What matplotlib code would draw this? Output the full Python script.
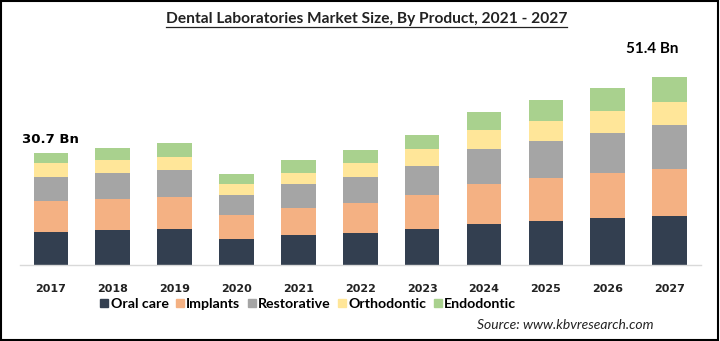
import numpy as np
import matplotlib
matplotlib.use("Agg")
import matplotlib.pyplot as plt
from matplotlib.lines import Line2D
from matplotlib.patches import Rectangle

# market size by product segment, USD Bn
years = ["2017", "2018", "2019", "2020", "2021", "2022", "2023", "2024", "2025", "2026", "2027"]
oral_care = [9.1, 9.6, 9.9, 7.2, 8.2, 8.9, 9.8, 11.3, 12.1, 13.0, 13.3]
implants = [8.4, 8.5, 8.7, 6.5, 7.5, 8.2, 9.4, 11.0, 11.6, 12.1, 13.1]
restorative = [6.6, 7.2, 7.5, 5.6, 6.6, 7.1, 8.0, 9.5, 10.2, 11.2, 12.0]
orthodontic = [3.8, 3.5, 3.6, 3.0, 3.0, 3.8, 4.6, 5.2, 5.5, 5.9, 6.2]
endodontic = [2.8, 3.3, 3.6, 2.5, 3.4, 3.6, 3.9, 4.9, 5.8, 6.2, 6.8]
segments = ["Oral care", "Implants", "Restorative", "Orthodontic", "Endodontic"]

colors = ["#333f50", "#f4b183", "#a5a5a5", "#ffe699", "#a9d18e"]
humanist = ["Lato", "DejaVu Sans"]

fig = plt.figure(figsize=(7.2, 3.41), dpi=100)
ax = fig.add_axes([20 / 720, 1 - 265 / 341, 680.6 / 720, 219 / 341])

x = np.arange(len(years))
bottom = np.zeros(len(years))
for vals, col in zip([oral_care, implants, restorative, orthodontic, endodontic], colors):
    ax.bar(x, vals, width=0.56, bottom=bottom, color=col, linewidth=0)
    bottom += np.array(vals)

ax.set_xlim(-0.5, 10.5)
ax.set_ylim(0, 60)
ax.set_xticks(x)
ax.set_xticklabels(years, fontsize=8, fontweight="bold", color="#222222")
ax.tick_params(axis="x", length=0, pad=14)
ax.set_yticks([])
for s in ["top", "right", "left"]:
    ax.spines[s].set_visible(False)
ax.spines["bottom"].set_color("#d9d9d9")
ax.spines["bottom"].set_linewidth(1)

# total labels on first and last year
ax.annotate(f"{bottom[0]:.1f} Bn", (x[0], bottom[0]), xytext=(0, 10),
            textcoords="offset points", ha="center", va="center",
            fontsize=9.5, fontweight="bold", color="black")
ax.annotate(f"{bottom[-1]:.1f} Bn", (x[-1], bottom[-1]), xytext=(-12.6, 20.5),
            textcoords="offset points", ha="center", va="center",
            fontsize=11, fontweight="bold", color="black", family=humanist)

# title with underline
title = fig.text(0.509, 1 - 19 / 341, "Dental Laboratories Market Size, By Product, 2021 - 2027",
                 ha="center", va="center", fontsize=11.2, fontweight="bold",
                 family=humanist, color="#222222")
renderer = fig.canvas.get_renderer()
bb = title.get_window_extent(renderer).transformed(fig.transFigure.inverted())
fig.add_artist(Line2D([bb.x0, bb.x1], [bb.y0 - 0.003, bb.y0 - 0.003],
                      transform=fig.transFigure, color="#222222", linewidth=0.9))

handles = [Line2D([], [], marker="s", linestyle="none", markersize=5.5,
                  markerfacecolor=c, markeredgecolor=c) for c in colors]
fig.legend(handles, segments, loc="center", bbox_to_anchor=(0.427, 1 - 304 / 341),
           ncol=5, frameon=False, handletextpad=0.05, columnspacing=0.4,
           handlelength=0.8, prop={"family": humanist, "weight": "bold", "size": 10.2})

fig.text(0.907, 1 - 325 / 341, "Source: www.kbvresearch.com", ha="right", va="center",
         fontsize=10, style="italic", family=humanist, color="#222222")

# outer frame
fig.add_artist(Rectangle((0.001, 0.003), 0.996, 0.994, transform=fig.transFigure,
                         fill=False, edgecolor="black", linewidth=1.5))

fig.savefig("out.png", dpi=100)
